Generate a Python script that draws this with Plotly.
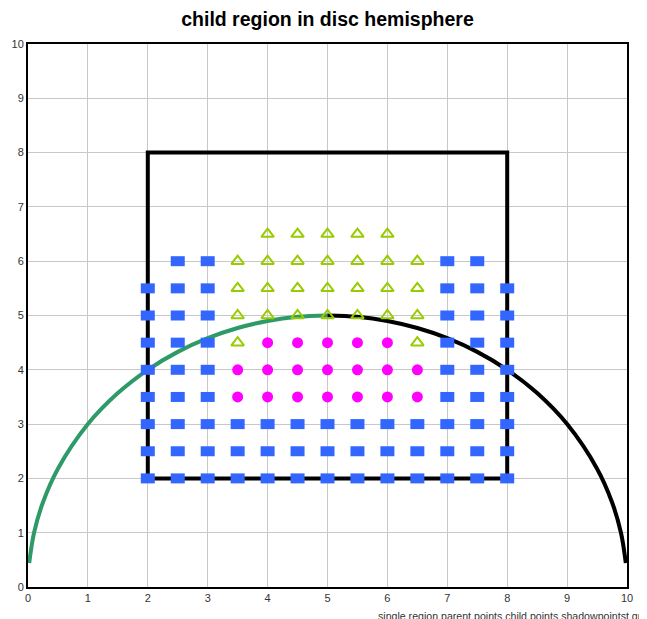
import plotly.graph_objects as go

# rectangle (single region)
region_x = [2, 8, 8, 2, 2]
region_y = [2, 2, 8, 8, 2]

# disc hemisphere (left half green, right half black)
arc_left_x = [0.02, 0.1, 0.25, 0.5, 1, 1.5, 2, 2.5, 3, 3.5, 4, 4.5, 5]
arc_left_y = [0.44, 0.995, 1.561, 2.179, 3, 3.571, 4, 4.33, 4.583, 4.77, 4.899, 4.975, 5]
arc_right_x = [5, 5.5, 6, 6.5, 7, 7.5, 8, 8.5, 9, 9.5, 9.75, 9.9, 9.98]
arc_right_y = [5, 4.975, 4.899, 4.77, 4.583, 4.33, 4, 3.571, 3, 2.179, 1.561, 0.995, 0.44]

# parent points, by row
parent_rows_y = [2, 2.5, 3, 3.5, 4, 4.5, 5, 5.5, 6]
parent_rows_x = [
    [2, 2.5, 3, 3.5, 4, 4.5, 5, 5.5, 6, 6.5, 7, 7.5, 8],
    [2, 2.5, 3, 3.5, 4, 4.5, 5, 5.5, 6, 6.5, 7, 7.5, 8],
    [2, 2.5, 3, 3.5, 4, 4.5, 5, 5.5, 6, 6.5, 7, 7.5, 8],
    [2, 2.5, 3, 7, 7.5, 8],
    [2, 2.5, 3, 7, 7.5, 8],
    [2, 2.5, 3, 7, 7.5, 8],
    [2, 2.5, 3, 7, 7.5, 8],
    [2, 2.5, 3, 7, 7.5, 8],
    [2.5, 3, 7, 7.5],
]

# child points, by row
child_rows_y = [3.5, 4, 4.5]
child_rows_x = [
    [3.5, 4, 4.5, 5, 5.5, 6, 6.5],
    [3.5, 4, 4.5, 5, 5.5, 6, 6.5],
    [4, 4.5, 5, 5.5, 6],
]

# shadow points, by row
shadow_rows_y = [4.5, 5, 5.5, 6, 6.5]
shadow_rows_x = [
    [3.5, 6.5],
    [3.5, 4, 4.5, 5, 5.5, 6, 6.5],
    [3.5, 4, 4.5, 5, 5.5, 6, 6.5],
    [3.5, 4, 4.5, 5, 5.5, 6, 6.5],
    [4, 4.5, 5, 5.5, 6],
]

tick_vals = [0, 1, 2, 3, 4, 5, 6, 7, 8, 9, 10]


def expand(rows_y, rows_x):
    xs, ys = [], []
    for y, row in zip(rows_y, rows_x):
        for x in row:
            xs.append(x)
            ys.append(y)
    return xs, ys


px, py = expand(parent_rows_y, parent_rows_x)
cx, cy = expand(child_rows_y, child_rows_x)
sx, sy = expand(shadow_rows_y, shadow_rows_x)

fig = go.Figure()
fig.add_trace(go.Scatter(x=region_x, y=region_y, mode="lines",
                         line=dict(color="black", width=4), name="single region"))
fig.add_trace(go.Scatter(x=arc_left_x, y=arc_left_y, mode="lines",
                         line=dict(color="#2e9a68", width=4, shape="spline"), name="arc left"))
fig.add_trace(go.Scatter(x=arc_right_x, y=arc_right_y, mode="lines",
                         line=dict(color="black", width=4, shape="spline"), name="arc right"))
fig.add_trace(go.Scatter(x=px, y=py, mode="markers", name="parent points",
                         marker=dict(symbol="line-ew", size=10,
                                     line=dict(color="#3366ff", width=10))))
fig.add_trace(go.Scatter(x=cx, y=cy, mode="markers", name="child points",
                         marker=dict(symbol="circle", size=11, color="#ff00ff")))
fig.add_trace(go.Scatter(x=sx, y=sy, mode="markers", name="shadowpoints",
                         marker=dict(symbol="triangle-up-open", size=11, color="#99cc00",
                                     line=dict(color="#99cc00", width=2))))

axis_common = dict(range=[0, 10], tickvals=tick_vals, showgrid=True, gridcolor="#c8c8c8",
                   gridwidth=1, showline=True, linecolor="black", linewidth=2, mirror=True,
                   zeroline=False, ticks="", automargin=False,
                   tickfont=dict(family="Liberation Sans", size=11, color="#333333"))

W, H = 639, 611
fig.update_layout(
    width=W, height=H,
    margin=dict(l=20, r=20, t=36, b=32, pad=0),
    paper_bgcolor="white", plot_bgcolor="white",
    showlegend=False,
    title=dict(text="<b>child region in disc hemisphere</b>", x=0.5, xanchor="center",
               y=1 - 11 / H, yanchor="middle", automargin=False,
               font=dict(family="Liberation Sans", size=19.5, color="black")),
    xaxis=dict(**axis_common),
    yaxis=dict(**axis_common),
)
fig.add_annotation(text="single region parent points child points shadowpointst grf",
                   xref="paper", yref="paper", x=(368 - 20) / 599, y=-21 / 543,
                   xanchor="left", yanchor="top", showarrow=False,
                   font=dict(family="Liberation Sans", size=10.6, color="#333333"))

fig.write_html("out.html")
